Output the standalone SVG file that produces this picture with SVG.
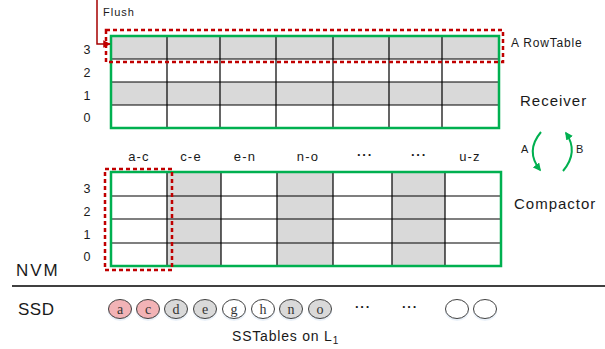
<svg xmlns="http://www.w3.org/2000/svg" width="605" height="349" viewBox="0 0 605 349">
<style>
text{font-family:"Liberation Sans",Arial,sans-serif;fill:#1a1a1a}
.grid{stroke:#000;stroke-width:1.2;fill:none}
.gray{fill:#d9d9d9}
.green{fill:none;stroke:#00b050;stroke-width:2.5}
.reddash{fill:none;stroke:#c00000;stroke-width:2.5;stroke-dasharray:4 3}
.rl{font-size:12.5px;text-anchor:middle}
.cl{font-size:13px;text-anchor:middle;letter-spacing:1.2px}
.dots{font-size:13px;text-anchor:middle;font-weight:bold;letter-spacing:1px}
.circ{stroke:#404040;stroke-width:1}
.ct{font-family:"Liberation Serif","Times New Roman",serif;font-size:14px;text-anchor:middle;fill:#333}
.shadow{fill:#dce8f5;opacity:0.6}
.big{font-size:15px;letter-spacing:1px}
</style>
<defs>
<marker id="gArrow" viewBox="0 0 10 10" refX="8" refY="5" markerWidth="4" markerHeight="4" orient="auto"><path d="M0,0 L10,5 L0,10 z" fill="#00b050"/></marker>
<marker id="rArrow" viewBox="0 0 10 10" refX="9" refY="5" markerWidth="5" markerHeight="5" orient="auto"><path d="M0,0 L10,5 L0,10 z" fill="#c00000"/></marker>
</defs>

<g id="receiver-table">
<rect class="gray" x="111" y="36" width="388" height="23"/>
<rect class="gray" x="111" y="82" width="388" height="23"/>
<path class="grid" d="M111,59H499M111,82H499M111,105H499M167,36V128M220,36V128M276,36V128M333,36V128M389,36V128M442,36V128"/>
<rect class="green" x="111" y="36" width="388" height="92"/>
<text class="rl" x="87" y="54">3</text>
<text class="rl" x="87" y="77">2</text>
<text class="rl" x="87" y="100">1</text>
<text class="rl" x="87" y="122">0</text>
</g>

<g id="rowtable">
<rect class="reddash" x="106" y="30" width="397" height="32"/>
<text x="511" y="47" style="font-size:12px;letter-spacing:0.8px">A RowTable</text>
</g>

<g id="flush">
<text x="103" y="16" style="font-size:11px;letter-spacing:1px">Flush</text>
</g>

<g id="receiver-label"><text class="big" x="520" y="106">Receiver</text></g>

<g id="compactor-table">
<rect class="gray" x="167" y="172" width="54" height="94"/>
<rect class="gray" x="277" y="172" width="56" height="94"/>
<rect class="gray" x="392" y="172" width="53" height="94"/>
<path class="grid" d="M111,196H501M111,219H501M111,243H501M167,172V266M221,172V266M277,172V266M333,172V266M392,172V266M445,172V266"/>
<rect class="green" x="111" y="172" width="390" height="94"/>
<text class="rl" x="87" y="193">3</text>
<text class="rl" x="87" y="216">2</text>
<text class="rl" x="87" y="239">1</text>
<text class="rl" x="87" y="261">0</text>
<text class="cl" x="139" y="161">a-c</text>
<text class="cl" x="191" y="161">c-e</text>
<text class="cl" x="245" y="161">e-n</text>
<text class="cl" x="308" y="161">n-o</text>
<text class="dots" x="365" y="159">···</text>
<text class="dots" x="419" y="159">···</text>
<text class="cl" x="470" y="161">u-z</text>
</g>

<g id="column-select"><rect class="reddash" x="105" y="169" width="67" height="101"/></g>

<g id="compactor-label"><text class="big" x="514" y="209">Compactor</text></g>

<g id="A-label"><text x="521" y="153" style="font-size:11px">A</text></g>
<g id="B-label"><text x="576" y="153" style="font-size:11px">B</text></g>

<g id="divider">
<line x1="12" y1="286" x2="605" y2="286" stroke="#000" stroke-width="1.5"/>
<text x="16" y="276" style="font-size:17px;letter-spacing:2px">NVM</text>
<text x="18" y="315" style="font-size:17px;letter-spacing:0.5px">SSD</text>
</g>

<g id="sstables">
<ellipse class="shadow" cx="120" cy="311" rx="12" ry="10"/>
<ellipse class="shadow" cx="148" cy="311" rx="12" ry="10"/>
<ellipse class="shadow" cx="176" cy="311" rx="12" ry="10"/>
<ellipse class="shadow" cx="205" cy="311" rx="12" ry="10"/>
<ellipse class="shadow" cx="234" cy="311" rx="12" ry="10"/>
<ellipse class="shadow" cx="263" cy="311" rx="12" ry="10"/>
<ellipse class="shadow" cx="291" cy="311" rx="12" ry="10"/>
<ellipse class="shadow" cx="320" cy="311" rx="12" ry="10"/>
<ellipse class="shadow" cx="457" cy="311" rx="12" ry="10"/>
<ellipse class="shadow" cx="485" cy="311" rx="12" ry="10"/>
<ellipse class="circ" cx="120" cy="309" rx="11.5" ry="9.5" fill="#f2b3b6"/>
<ellipse class="circ" cx="148" cy="309" rx="11.5" ry="9.5" fill="#f2b3b6"/>
<ellipse class="circ" cx="176" cy="309" rx="11.5" ry="9.5" fill="#d9d9d9"/>
<ellipse class="circ" cx="205" cy="309" rx="11.5" ry="9.5" fill="#d9d9d9"/>
<ellipse class="circ" cx="234" cy="309" rx="11.5" ry="9.5" fill="#fff"/>
<ellipse class="circ" cx="263" cy="309" rx="11.5" ry="9.5" fill="#fff"/>
<ellipse class="circ" cx="291" cy="309" rx="11.5" ry="9.5" fill="#d9d9d9"/>
<ellipse class="circ" cx="320" cy="309" rx="11.5" ry="9.5" fill="#d9d9d9"/>
<ellipse class="circ" cx="457" cy="309" rx="11.5" ry="9.5" fill="#fff"/>
<ellipse class="circ" cx="485" cy="309" rx="11.5" ry="9.5" fill="#fff"/>
<text class="ct" x="120" y="313.5">a</text>
<text class="ct" x="148" y="313.5">c</text>
<text class="ct" x="176" y="313.5">d</text>
<text class="ct" x="205" y="313.5">e</text>
<text class="ct" x="234" y="313.5">g</text>
<text class="ct" x="263" y="313.5">h</text>
<text class="ct" x="291" y="313.5">n</text>
<text class="ct" x="320" y="313.5">o</text>
<text class="dots" x="363" y="311">···</text>
<text class="dots" x="410" y="311">···</text>
<text x="232" y="341" style="font-size:14px;letter-spacing:0.8px">SSTables on L<tspan font-size="10px" dy="3">1</tspan></text>
</g>

<g id="connectors">
<path d="M97,0 V44 H110" fill="none" stroke="#a50000" stroke-width="1.5" marker-end="url(#rArrow)"/>
<path d="M541,132 Q525,151 540,170" fill="none" stroke="#00b050" stroke-width="2" marker-end="url(#gArrow)"/>
<path d="M563,171 Q579,152 566,133" fill="none" stroke="#00b050" stroke-width="2" marker-end="url(#gArrow)"/>
</g>
</svg>
